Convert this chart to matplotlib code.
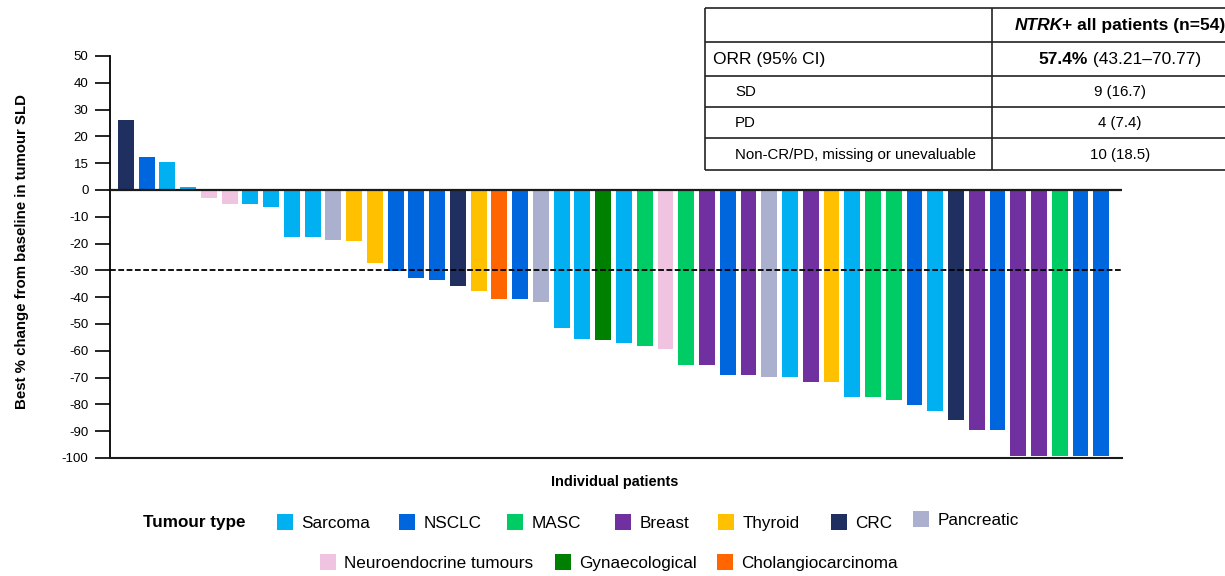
import matplotlib
matplotlib.use("Agg")
import matplotlib.pyplot as plt
from matplotlib import font_manager
from matplotlib.patches import Rectangle

# ---- data -------------------------------------------------------------
tumour_types = ["Sarcoma", "NSCLC", "MASC", "Breast", "Thyroid", "CRC",
                "Pancreatic", "Neuroendocrine tumours", "Gynaecological",
                "Cholangiocarcinoma"]
type_colours = ["#00B0F0", "#0066DD", "#00CC66", "#7030A0", "#FFC000",
                "#1F3060", "#AAB0CE", "#F0C4E0", "#008000", "#FF6600"]

patient_type = [
    "CRC", "NSCLC", "Sarcoma", "Sarcoma", "Neuroendocrine tumours",
    "Neuroendocrine tumours", "Sarcoma", "Sarcoma", "Sarcoma", "Sarcoma",
    "Pancreatic", "Thyroid", "Thyroid", "NSCLC", "NSCLC", "NSCLC", "CRC",
    "Thyroid", "Cholangiocarcinoma", "NSCLC", "Pancreatic", "Sarcoma",
    "Sarcoma", "Gynaecological", "Sarcoma", "MASC", "Neuroendocrine tumours",
    "MASC", "Breast", "NSCLC", "Breast", "Pancreatic", "Sarcoma", "Breast",
    "Thyroid", "Sarcoma", "MASC", "MASC", "NSCLC", "Sarcoma", "CRC",
    "Breast", "NSCLC", "Breast", "Breast", "MASC", "NSCLC", "NSCLC"]
best_change = [
    26.0, 12.3, 10.4, 1.1, -2.9, -5.1, -5.1, -6.2, -17.4, -17.4,
    -18.5, -18.9, -27.1, -30.1, -32.7, -33.5, -35.7, -37.6, -40.6, -40.6,
    -41.7, -51.4, -55.5, -55.9, -57.0, -58.1, -59.2, -65.4, -65.4, -69.2,
    -69.2, -69.6, -69.6, -71.5, -71.8, -77.1, -77.1, -78.2, -80.1, -82.3,
    -85.7, -89.4, -89.4, -99.1, -99.1, -99.1, -99.1, -99.1]

ytick_values = [50, 40, 30, 20, 10, 0, -10, -20, -30, -40, -50, -60, -70,
                -80, -90, -100]
ytick_labels = ["50", "40", "30", "20", "15", "0", "-10", "-20", "-30",
                "-40", "-50", "-60", "-70", "-80", "-90", "-100"]
response_threshold = -30

table_header_italic = "NTRK"
table_header_rest = "+ all patients (n=54)"
table_row_labels = ["ORR (95% CI)", "SD", "PD",
                    "Non-CR/PD, missing or unevaluable"]
orr_value = "57.4%"
orr_ci = " (43.21\u201370.77)"
table_row_values = ["9 (16.7)", "4 (7.4)", "10 (18.5)"]

# ---- fonts --------------------------------------------------------------
plt.rcParams["font.family"] = ["Liberation Sans", "DejaVu Sans"]
available = {f.name for f in font_manager.fontManager.ttflist}
if "Liberation Sans Narrow" in available:
    narrow_family, narrow_scale = ["Liberation Sans Narrow", "Liberation Sans"], 1.0
else:
    narrow_family, narrow_scale = ["Liberation Sans", "DejaVu Sans"], 0.82

W, H = 1225, 576
fig = plt.figure(figsize=(W / 100, H / 100), dpi=100)

# ---- waterfall axes -----------------------------------------------------
ax_left, ax_right, ax_top, ax_bottom = 110, 1122, 56, 458
ax = fig.add_axes([ax_left / W, 1 - ax_bottom / H,
                   (ax_right - ax_left) / W, (ax_bottom - ax_top) / H])

colour_of = dict(zip(tumour_types, type_colours))
x = list(range(len(best_change)))
ax.bar(x, best_change, width=0.77,
       color=[colour_of[t] for t in patient_type], zorder=2)

ax.set_xlim(-0.77, len(best_change))
ax.set_ylim(-100, 50)
ax.set_xticks([])
ax.set_yticks(ytick_values)
ax.set_yticklabels(ytick_labels, fontsize=9.5)
ax.tick_params(axis="y", direction="out", length=11, width=1.2, pad=4.5,
               colors="black")

for side in ("top", "right"):
    ax.spines[side].set_visible(False)
ax.spines["left"].set_linewidth(1.3)
ax.spines["bottom"].set_linewidth(1.5)
ax.spines["bottom"].set_color("#1a1a1a")

ax.axhline(0, color="#1a1a1a", lw=1.6, zorder=4)
ax.axhline(response_threshold, color="black", lw=1.3,
           linestyle=(0, (3.2, 1.4)), zorder=4)

# ---- overlay in pixel coordinates for labels, table and legend ----------
lay = fig.add_axes([0, 0, 1, 1], zorder=5)
lay.set_xlim(0, W)
lay.set_ylim(H, 0)
lay.axis("off")
lay.patch.set_alpha(0)

lay.text(22, 252, "Best % change from baseline in tumour SLD", rotation=90,
         ha="center", va="center", fontsize=10.8, fontweight="bold")
lay.text(615, 482, "Individual patients", ha="center", va="center",
         fontsize=12.7 * narrow_scale, fontweight="bold", family=narrow_family)

# table grid
tab_left, tab_split, tab_right = 705, 992, 1250
row_edges = [7.5, 42, 76, 107, 138, 170]
for yy in row_edges:
    lay.plot([tab_left, tab_right], [yy, yy], color="#222222", lw=1.2,
             solid_capstyle="butt")
for xx in (tab_left, tab_split):
    lay.plot([xx, xx], [row_edges[0], row_edges[-1]], color="#222222",
             lw=1.2, solid_capstyle="butt")

col_centre = 1120
row_centres = [(a + b) / 2 + 0.5 for a, b in zip(row_edges[:-1], row_edges[1:])]

fig.canvas.draw()
renderer = fig.canvas.get_renderer()


def centred_pair(part1, kw1, part2, kw2, yc):
    t1 = lay.text(0, yc, part1, ha="left", va="center", **kw1)
    t2 = lay.text(0, yc, part2, ha="left", va="center", **kw2)
    w1 = t1.get_window_extent(renderer).width
    w2 = t2.get_window_extent(renderer).width
    start = col_centre - (w1 + w2) / 2
    t1.set_x(start)
    t2.set_x(start + w1)


centred_pair(table_header_italic,
             dict(fontsize=12.5, fontweight="bold", fontstyle="italic"),
             table_header_rest, dict(fontsize=12.5, fontweight="bold"),
             row_centres[0])
centred_pair(orr_value, dict(fontsize=12.5, fontweight="bold"),
             orr_ci, dict(fontsize=12.5), row_centres[1])

lay.text(713, row_centres[1], table_row_labels[0], ha="left", va="center",
         fontsize=12.5)
for label, value, yc in zip(table_row_labels[1:], table_row_values,
                            row_centres[2:]):
    lay.text(735, yc, label, ha="left", va="center", fontsize=10.8)
    lay.text(col_centre, yc, value, ha="center", va="center", fontsize=10.8)

# legend
lay.text(143, 523, "Tumour type", ha="left", va="center",
         fontsize=15 * narrow_scale, fontweight="bold", family=narrow_family)
legend_x = [277, 399, 507, 615, 718, 831, 913, 320, 555, 717]
legend_y = [522, 522, 522, 522, 522, 522, 519, 562, 562, 562]
for name, colour, lx, ly in zip(tumour_types, type_colours, legend_x, legend_y):
    lay.add_patch(Rectangle((lx, ly - 8.5), 16, 16.5, color=colour, lw=0))
    lay.text(lx + 24.5, ly + 1.5, name, ha="left", va="center",
             fontsize=15 * narrow_scale, family=narrow_family)

fig.savefig("out.png", dpi=100, facecolor="white")
